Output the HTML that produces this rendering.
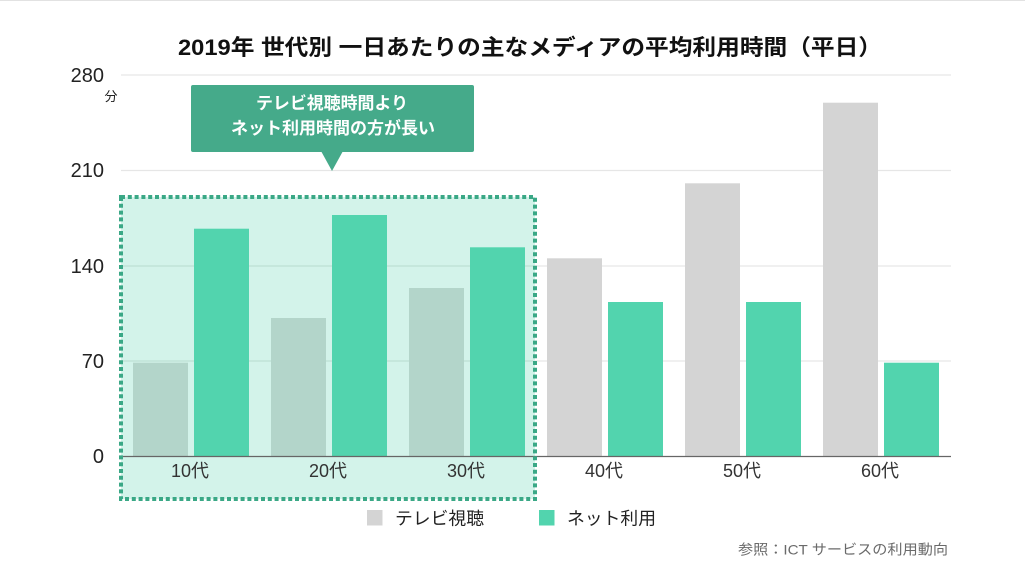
<!DOCTYPE html>
<html lang="ja">
<head>
<meta charset="utf-8">
<title>chart</title>
<style>
  html, body { margin:0; padding:0; background:#ffffff; }
  body { width:1025px; height:576px; overflow:hidden; }
  svg { display:block; }
  text { font-family: "Liberation Sans", "Noto Sans CJK JP", sans-serif; }
</style>
</head>
<body>
<svg width="1025" height="576" viewBox="0 0 1025 576" xmlns="http://www.w3.org/2000/svg">
  <rect x="0" y="0" width="1025" height="576" fill="#ffffff"/>
  <line x1="0" y1="0.5" x2="1025" y2="0.5" stroke="#e2e2e2" stroke-width="1"/>

  <text x="530" y="55" font-size="22" font-weight="bold" fill="#111111" text-anchor="middle" textLength="704" lengthAdjust="spacingAndGlyphs">2019年 世代別 一日あたりの主なメディアの平均利用時間（平日）</text>

  <g stroke="#e6e6e6" stroke-width="1.3">
    <line x1="121" y1="75" x2="951" y2="75"/>
    <line x1="121" y1="170.5" x2="951" y2="170.5"/>
    <line x1="121" y1="266" x2="951" y2="266"/>
    <line x1="121" y1="361" x2="951" y2="361"/>
  </g>

  <rect x="121" y="197" width="414" height="302" fill="#d3f3ea"/>
  <g stroke="#bde0d4" stroke-width="1.3">
    <line x1="123" y1="266" x2="533" y2="266"/>
    <line x1="123" y1="361" x2="533" y2="361"/>
  </g>

  <g font-size="20" fill="#222222" text-anchor="end">
    <text x="104" y="82">280</text>
    <text x="104" y="177">210</text>
    <text x="104" y="273">140</text>
    <text x="104" y="368">70</text>
    <text x="104" y="463">0</text>
  </g>
  <text x="111" y="101" font-size="13" fill="#222222" text-anchor="middle">分</text>

  <g fill="#b3d5ca">
    <rect x="133" y="362.7" width="55" height="93.3"/>
    <rect x="271" y="318" width="55" height="138"/>
    <rect x="409" y="288" width="55" height="168"/>
  </g>
  <g fill="#d4d4d4">
    <rect x="547" y="258.3" width="55" height="197.7"/>
    <rect x="685" y="183.3" width="55" height="272.7"/>
    <rect x="823" y="102.7" width="55" height="353.3"/>
  </g>
  <g fill="#52d4ae">
    <rect x="194" y="228.7" width="55" height="227.3"/>
    <rect x="332" y="215" width="55" height="241"/>
    <rect x="470" y="247.3" width="55" height="208.7"/>
    <rect x="608" y="302" width="55" height="154"/>
    <rect x="746" y="302" width="55" height="154"/>
    <rect x="884" y="362.7" width="55" height="93.3"/>
  </g>

  <line x1="121" y1="456.5" x2="951" y2="456.5" stroke="#666666" stroke-width="1.2"/>

  <rect x="121" y="197" width="414" height="302" fill="none" stroke="#3aa886" stroke-width="4" stroke-dasharray="4 2.8"/>

  <g font-size="18" fill="#333333" text-anchor="middle">
    <text x="190" y="477">10代</text>
    <text x="328" y="477">20代</text>
    <text x="466" y="477">30代</text>
    <text x="604" y="477">40代</text>
    <text x="742" y="477">50代</text>
    <text x="880" y="477">60代</text>
  </g>

  <rect x="191" y="85" width="283" height="67" rx="2" fill="#45aa8a"/>
  <polygon points="321,151 343,151 332,171" fill="#45aa8a"/>
  <text x="332" y="109" font-size="17" font-weight="bold" fill="#ffffff" text-anchor="middle" textLength="152" lengthAdjust="spacingAndGlyphs">テレビ視聴時間より</text>
  <text x="333" y="134" font-size="17" font-weight="bold" fill="#ffffff" text-anchor="middle" textLength="204" lengthAdjust="spacingAndGlyphs">ネット利用時間の方が長い</text>

  <rect x="367" y="510" width="15.5" height="15.5" fill="#d4d4d4"/>
  <text x="395" y="524.5" font-size="17.5" fill="#222222" textLength="89" lengthAdjust="spacingAndGlyphs">テレビ視聴</text>
  <rect x="539" y="510" width="15.5" height="15.5" fill="#52d4ae"/>
  <text x="567" y="524.5" font-size="17.5" fill="#222222" textLength="89" lengthAdjust="spacingAndGlyphs">ネット利用</text>

  <text x="738" y="554.5" font-size="14" fill="#6a6a6a" textLength="210" lengthAdjust="spacingAndGlyphs">参照：ICT サービスの利用動向</text>
</svg>
</body>
</html>
